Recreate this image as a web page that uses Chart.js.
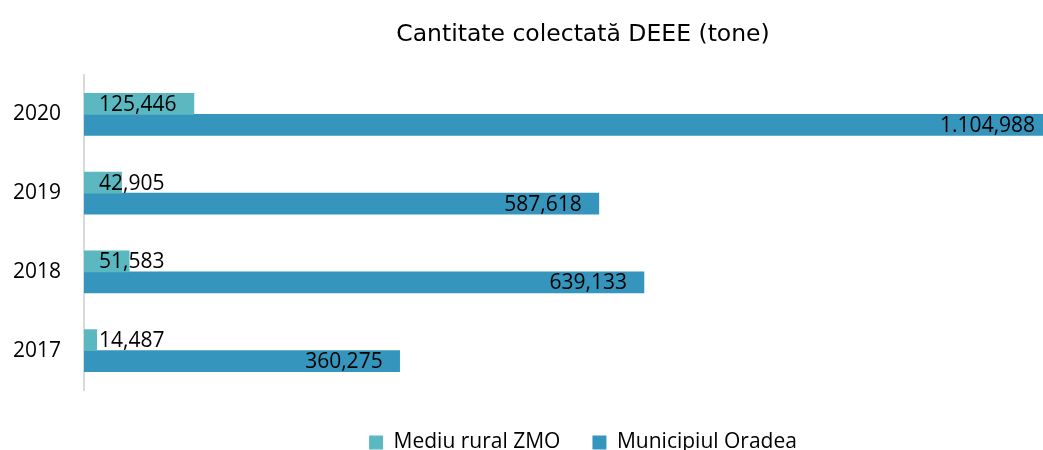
<!DOCTYPE html>
<html>
<head>
<meta charset="utf-8">
<script src="https://cdn.jsdelivr.net/npm/chart.js@4"></script>
<style>
  html, body { margin: 0; padding: 0; background: #fff; overflow: hidden; width: 1043px; height: 450px; }
  #wrap { width: 1166px; height: 470px; }
</style>
</head>
<body>
<div id="wrap"><canvas id="mycanvas" width="1166" height="470"></canvas></div>
<script>
var years = ['2020', '2019', '2018', '2017'];
var rural_data = [125.446, 42.905, 51.583, 14.487];
var oradea_data = [1104.988, 587.618, 639.133, 360.275];

// romanian style: 1.104,988
function fmt(v) {
  var parts = v.toFixed(3).split('.');
  var int_part = parts[0].replace(/\B(?=(\d{3})+(?!\d))/g, '.');
  return int_part + ',' + parts[1];
}

var labelsPlugin = {
  id: 'barLabels',
  afterDatasetsDraw: function(chart) {
    var ctx = chart.ctx;
    ctx.save();
    ctx.font = '21px "Open Sans"';
    ctx.fillStyle = '#000';
    ctx.textBaseline = 'middle';
    chart.data.datasets.forEach(function(ds, di) {
      var meta = chart.getDatasetMeta(di);
      meta.data.forEach(function(bar, i) {
        var txt = fmt(ds.data[i]);
        if (di == 0) {
          ctx.textAlign = 'left';
          ctx.fillText(txt, chart.chartArea.left + 15, bar.y + 1);
        } else {
          ctx.textAlign = 'right';
          ctx.fillText(txt, bar.x - 17, bar.y + 1);
        }
      });
    });
    ctx.restore();
  }
};

var chartdata = {
  labels: years,
  datasets: [
    {
      label: 'Mediu rural ZMO',
      backgroundColor: '#5BB7C0',
      data: rural_data
    },
    {
      label: 'Municipiul Oradea',
      backgroundColor: '#3695BC',
      data: oradea_data
    }
  ]
};

var ctx = document.getElementById('mycanvas');
var chart = new Chart(ctx, {
  type: 'bar',
  data: chartdata,
  plugins: [labelsPlugin],
  options: {
    indexAxis: 'y',
    responsive: false,
    animation: false,
    barThickness: 21,
    layout: { padding: { left: 0, right: 0, top: 0, bottom: 7 } },
    scales: {
      x: {
        min: 0,
        max: 1235,
        grid: { display: false },
        border: { display: false },
        ticks: { display: false },
        afterFit: function(scale) { scale.height = 10; }
      },
      y: {
        grid: { display: false, tickLength: 0 },
        border: { display: true, color: '#d9d9d9', width: 2 },
        ticks: { color: '#000', padding: 23, font: { family: 'Open Sans', size: 21 } },
        afterFit: function(scale) { scale.width = 84; }
      }
    },
    plugins: {
      title: {
        display: true,
        text: 'Cantitate colectată DEEE (tone)',
        color: '#000',
        font: { family: 'DejaVu Sans', size: 23.5, weight: 'normal' },
        padding: { top: 21, bottom: 25.8 }
      },
      legend: {
        position: 'bottom',
        labels: {
          color: '#000',
          boxWidth: 14,
          boxHeight: 14,
          padding: 32,
          font: { family: 'Open Sans', size: 21 }
        }
      },
      tooltip: { enabled: false }
    }
  }
});
</script>
</body>
</html>
